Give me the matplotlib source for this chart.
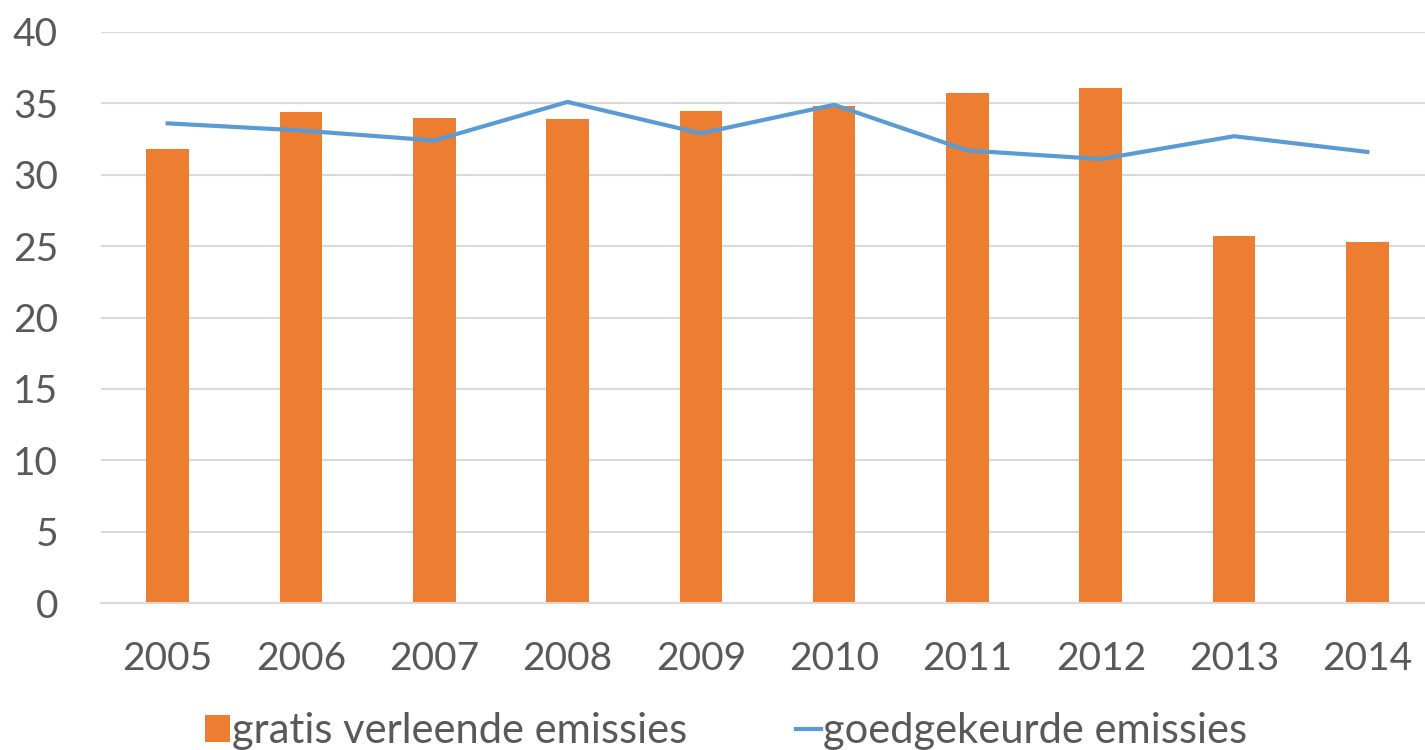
import numpy as np
import matplotlib.pyplot as plt

# data
years = ['2005', '2006', '2007', '2008', '2009', '2010', '2011', '2012', '2013', '2014']
gratis = [31.8, 34.4, 34.0, 33.9, 34.5, 34.8, 35.7, 36.1, 25.7, 25.3]
goedgekeurd = [33.6, 33.1, 32.4, 35.1, 32.9, 34.9, 31.7, 31.1, 32.7, 31.6]
yticks = [0, 5, 10, 15, 20, 25, 30, 35, 40]

BAR_COLOR = '#ED7D31'
LINE_COLOR = '#5B9BD5'
TEXT_COLOR = '#595959'
GRID_COLOR = '#D9D9D9'

plt.rcParams['font.family'] = ['Lato', 'DejaVu Sans']

W, H = 1425, 750
fig = plt.figure(figsize=(W / 100, H / 100), dpi=100)
ax = fig.add_axes([101 / W, (H - 603) / H, (W - 101) / W, 571 / H])

x = np.arange(len(years))
step = 133.3
bars = ax.bar(x, gratis, width=0.32, color=BAR_COLOR, zorder=2, label='gratis verleende emissies')
line, = ax.plot(x, goedgekeurd, color=LINE_COLOR, lw=3, zorder=3, label='goedgekeurde emissies')

ax.set_ylim(0, 40)
ax.set_xlim(-0.5, (W - 101) / step - 0.5)
ax.set_yticks(yticks)
ax.set_xticks(x)
ax.set_xticklabels(years)
ax.yaxis.grid(True, color=GRID_COLOR, lw=1.5, zorder=0)
ax.set_axisbelow(True)
for s in ['top', 'right', 'left']:
    ax.spines[s].set_visible(False)
ax.spines['bottom'].set_color(GRID_COLOR)
ax.spines['bottom'].set_linewidth(1.5)
ax.tick_params(axis='both', length=0, labelsize=28, colors=TEXT_COLOR)
ax.tick_params(axis='y', pad=31)
ax.tick_params(axis='x', pad=27)

fig.legend([bars, line], ['gratis verleende emissies', 'goedgekeurde emissies'],
           loc='center', bbox_to_anchor=(726 / W, 1 - 731 / H), ncol=2,
           frameon=False, fontsize=30, handlelength=0.6, handleheight=0.6,
           handletextpad=0.05, columnspacing=2.6, labelcolor=TEXT_COLOR)

fig.savefig('out.png', dpi=100)
